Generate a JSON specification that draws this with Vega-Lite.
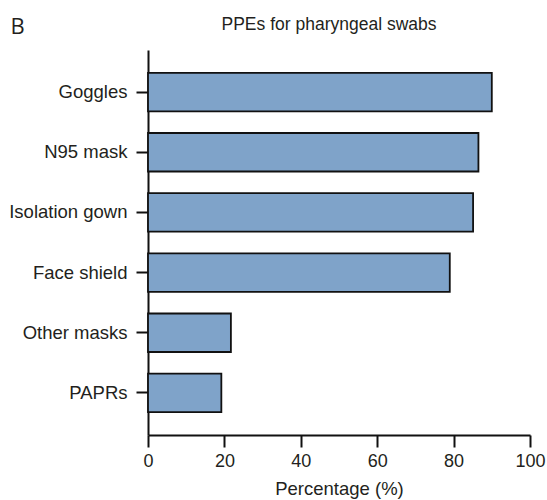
{
  "$schema": "https://vega.github.io/schema/vega-lite/v6.json",
  "width": 382,
  "height": 385,
  "autosize": {"type": "none"},
  "padding": {"left": 148, "top": 50, "right": 17, "bottom": 65},
  "background": "white",
  "title": {
    "text": "PPEs for pharyngeal swabs",
    "font": "Liberation Sans",
    "fontSize": 17.5,
    "fontWeight": "normal",
    "color": "#231f20",
    "offset": -18,
    "dx": -10
  },
  "data": {
    "values": [
      {"item": "Goggles", "pct": 90.0},
      {"item": "N95 mask", "pct": 86.5},
      {"item": "Isolation gown", "pct": 85.1},
      {"item": "Face shield", "pct": 79.0},
      {"item": "Other masks", "pct": 21.7},
      {"item": "PAPRs", "pct": 19.2}
    ]
  },
  "mark": {"type": "bar", "fill": "#7fa3c9", "stroke": "#111111", "strokeWidth": 1.8},
  "encoding": {
    "y": {
      "field": "item",
      "type": "nominal",
      "sort": null,
      "scale": {"paddingInner": 0.36, "paddingOuter": 0.38},
      "axis": {
        "title": "B",
        "titleAngle": 0,
        "titleAlign": "left",
        "titleBaseline": "alphabetic",
        "titleX": -138,
        "titleY": -17,
        "titleFont": "Open Sans",
        "titleFontSize": 22,
        "titleFontWeight": 500,
        "titleColor": "#231f20",
        "labelFont": "Liberation Sans",
        "labelFontSize": 18.5,
        "labelColor": "#231f20",
        "labelPadding": 9,
        "labelLimit": 200,
        "tickSize": 12,
        "tickWidth": 2,
        "tickColor": "#111111",
        "domainWidth": 2,
        "domainColor": "#111111"
      }
    },
    "x": {
      "field": "pct",
      "type": "quantitative",
      "scale": {"domain": [0, 100], "nice": false},
      "axis": {
        "title": "Percentage (%)",
        "values": [0, 20, 40, 60, 80, 100],
        "grid": false,
        "titleFont": "Liberation Sans",
        "titleFontSize": 18.5,
        "titleFontWeight": "normal",
        "titleColor": "#231f20",
        "titlePadding": 9,
        "labelFont": "Liberation Sans",
        "labelFontSize": 18,
        "labelColor": "#231f20",
        "labelPadding": 5,
        "labelFlush": false,
        "tickSize": 12,
        "tickWidth": 2,
        "tickColor": "#111111",
        "domainWidth": 2,
        "domainColor": "#111111"
      }
    }
  },
  "config": {"view": {"stroke": null}}
}
